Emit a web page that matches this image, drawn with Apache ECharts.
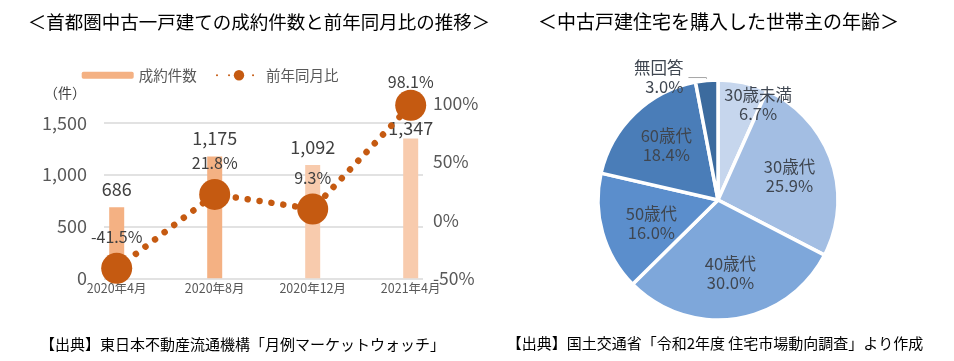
<!DOCTYPE html>
<html>
<head>
<meta charset="utf-8">
<script src="https://cdn.jsdelivr.net/npm/echarts@6/dist/echarts.min.js"></script>
<style>html,body{margin:0;padding:0;background:#fff;}#c{width:954px;height:361px;}</style>
</head>
<body>
<div id="c"></div>
<script>
// ---- data ----
var months = ['2020年4月', '2020年8月', '2020年12月', '2021年4月'];
var contracts = [686, 1175, 1092, 1347];
var yoy = [-41.5, 21.8, 9.3, 98.1];
var leftTicks = [0, 500, 1000, 1500];
var rightTicks = [-50, 0, 50, 100];
var ageGroups = ['30歳未満', '30歳代', '40歳代', '50歳代', '60歳代', '無回答'];
var ageShares = [6.7, 25.9, 30.0, 16.0, 18.4, 3.0];

// ---- styles ----
var FONT = '"Noto Sans CJK JP", "Noto Sans", sans-serif';
var barColors = ['#F4B183', '#F4B183', '#F8CBAD', '#F8CBAD'];
var barLabelDist = [9, 9, 9, 1.5];
var lineLabelDist = [8, 8, 8, 0];
var pieColors = ['#C6D6ED', '#A3BEE3', '#7EA7DA', '#5B8ECC', '#4A7DB8', '#3C6B9E'];
var pieDx = [27, 12, 3, -6, -8, 0];
var pieDy = [-34, -3, 11, 6, -9, 0];

var chart = echarts.init(document.getElementById('c'));

var barData = contracts.map(function (v, i) {
  return {
    value: v,
    itemStyle: { color: barColors[i] },
    label: { distance: barLabelDist[i] }
  };
});
var lineData = yoy.map(function (v, i) {
  return { value: v, label: { distance: lineLabelDist[i] } };
});
var pieData = ageGroups.map(function (n, i) {
  var d = { name: n, value: ageShares[i], itemStyle: { color: pieColors[i] } };
  if (n === '無回答') {
    d.label = { position: 'outside' };
    d.labelLine = { show: true, length: 3, length2: 18, lineStyle: { color: '#A6A6A6', width: 1 } };
  }
  return d;
});

var gridA = { left: 104, top: 122.7, width: 319, height: 155.6 };
var gridB = { left: 104, top: 103, width: 319, height: 175.3 };
var gridC = { left: 67.7, top: 122.7, width: 392, height: 155.6 };
var gridD = { left: 67.7, top: 103, width: 392, height: 175.3 };

function hiddenCat(gi) {
  return { type: 'category', gridIndex: gi, data: months, show: false };
}

var option = {
  animation: false,
  textStyle: { fontFamily: FONT },
  grid: [gridA, gridB, gridC, gridD],
  legend: [
    {
      data: ['成約件数'], left: 76.7, top: 63, itemWidth: 52, itemHeight: 7,
      textStyle: { fontSize: 14.5, color: '#595959', fontFamily: FONT }, itemGap: 6
    },
    {
      data: ['前年同月比'], left: 211, top: 63, itemWidth: 44, itemHeight: 13,
      textStyle: { fontSize: 14.5, color: '#595959', fontFamily: FONT }
    }
  ],
  xAxis: [
    hiddenCat(0),
    hiddenCat(1),
    {
      type: 'category', gridIndex: 2, data: months,
      axisLine: { show: false }, axisTick: { show: false },
      axisLabel: { color: '#595959', fontSize: 12.5, margin: 4, fontFamily: FONT }
    },
    hiddenCat(3)
  ],
  yAxis: [
    {
      type: 'value', gridIndex: 0, min: leftTicks[0], max: leftTicks[leftTicks.length - 1], interval: 500,
      axisLine: { show: false }, axisTick: { show: false },
      axisLabel: {
        color: '#595959', fontSize: 18, margin: 17, fontFamily: FONT,
        formatter: function (v) { return v.toLocaleString('en-US'); }
      },
      splitLine: { show: true, lineStyle: { color: '#D9D9D9', width: 1.5 } }
    },
    {
      type: 'value', gridIndex: 1, position: 'right', min: rightTicks[0], max: rightTicks[rightTicks.length - 1], interval: 50,
      axisLine: { show: false }, axisTick: { show: false },
      axisLabel: { color: '#595959', fontSize: 17.5, margin: 10, formatter: '{value}%', fontFamily: FONT },
      splitLine: { show: false }
    },
    { type: 'value', gridIndex: 2, min: 0, max: 1500, show: false, splitLine: { show: false } },
    { type: 'value', gridIndex: 3, min: -50, max: 100, show: false, splitLine: { show: false } }
  ],
  series: [
    {
      name: '成約件数', type: 'bar', xAxisIndex: 2, yAxisIndex: 2, data: barData,
      barWidth: 15, itemStyle: { color: '#F4B183' },
      label: {
        show: true, position: 'top', color: '#404040', fontSize: 18, fontFamily: FONT,
        formatter: function (p) { return p.value.toLocaleString('en-US'); }
      }
    },
    {
      name: '前年同月比', type: 'line', xAxisIndex: 3, yAxisIndex: 3, data: lineData,
      symbol: 'circle', symbolSize: 31,
      itemStyle: { color: '#C55A11' },
      lineStyle: { color: '#C55A11', width: 6.5, type: [0.01, 12], cap: 'round' },
      label: {
        show: true, position: 'top', color: '#404040', fontSize: 16, fontFamily: FONT,
        formatter: function (p) { return p.value.toFixed(1) + '%'; }
      },
      z: 3
    },
    {
      name: '年齢', type: 'pie', center: [718, 200], radius: [0, 120],
      startAngle: 90, clockwise: true, data: pieData,
      itemStyle: { borderColor: '#fff', borderWidth: 3.5 },
      label: {
        show: true, position: 'inside', color: '#3F4650', fontSize: 16.5, lineHeight: 19,
        fontFamily: FONT,
        formatter: function (p) { return p.name + '\n' + p.value.toFixed(1) + '%'; }
      },
      labelLine: { show: false },
      labelLayout: function (p) {
        return { dx: pieDx[p.dataIndex], dy: pieDy[p.dataIndex] };
      }
    }
  ],
  graphic: [
    { type: 'text', x: 259, y: 22, style: { text: '＜首都圏中古一戸建ての成約件数と前年同月比の推移＞', fill: '#000', fontSize: 18.5, fontFamily: FONT, align: 'center', verticalAlign: 'middle' } },
    { type: 'text', x: 718.5, y: 22, style: { text: '＜中古戸建住宅を購入した世帯主の年齢＞', fill: '#000', fontSize: 19, fontFamily: FONT, align: 'center', verticalAlign: 'middle' } },
    { type: 'text', x: 65, y: 93, style: { text: '（件）', fill: '#404040', fontSize: 14, fontFamily: FONT, align: 'center', verticalAlign: 'middle' } },
    { type: 'text', x: 242.5, y: 344, style: { text: '【出典】東日本不動産流通機構「月例マーケットウォッチ」', fill: '#000', fontSize: 15, fontFamily: FONT, align: 'center', verticalAlign: 'middle' } },
    { type: 'text', x: 715, y: 343, style: { text: '【出典】国土交通省「令和2年度 住宅市場動向調査」より作成', fill: '#000', fontSize: 15, fontFamily: FONT, align: 'center', verticalAlign: 'middle' } }
  ]
};
chart.setOption(option);
</script>
</body>
</html>
